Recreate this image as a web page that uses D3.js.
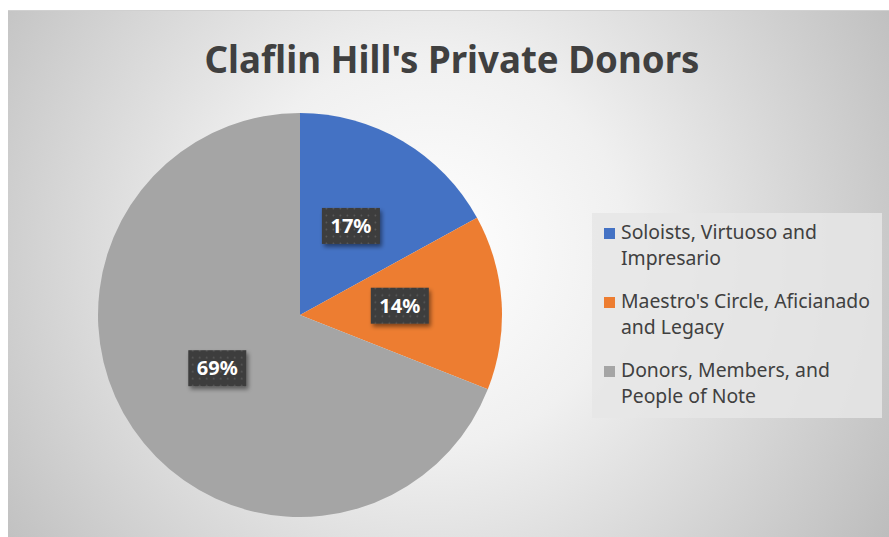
<!DOCTYPE html>
<html>
<head>
<meta charset="utf-8">
<script src="https://cdn.jsdelivr.net/npm/d3@7"></script>
<style>
  body { margin: 0; background: #fff; }
  svg { display: block; }
</style>
</head>
<body>
<svg width="889" height="537"></svg>
<script>
var title = "Claflin Hill's Private Donors";
var categories = ["Soloists, Virtuoso and Impresario", "Maestro's Circle, Aficianado and Legacy", "Donors, Members, and People of Note"];
var legendLines = [["Soloists, Virtuoso and", "Impresario"], ["Maestro's Circle, Aficianado", "and Legacy"], ["Donors, Members, and", "People of Note"]];
var values = [17, 14, 69];
var colors = ["#4472C4", "#ED7D31", "#A5A5A5"];

var svg = d3.select("svg"),
    W = +svg.attr("width"),
    H = +svg.attr("height"),
    cx = 300, cy = 315, radius = 202;

var font = "'Noto Sans', 'Open Sans', sans-serif";

var defs = svg.append("defs");

var grad = defs.append("radialGradient")
    .attr("id", "bg")
    .attr("gradientUnits", "userSpaceOnUse")
    .attr("cx", 430).attr("cy", 250).attr("r", 560);
grad.append("stop").attr("offset", "0%").attr("stop-color", "#ffffff");
grad.append("stop").attr("offset", "35%").attr("stop-color", "#f0f0f0");
grad.append("stop").attr("offset", "100%").attr("stop-color", "#bababa");

var pat = defs.append("pattern")
    .attr("id", "dots")
    .attr("patternUnits", "userSpaceOnUse")
    .attr("width", 7).attr("height", 7);
pat.append("rect").attr("width", 7).attr("height", 7).attr("fill", "#3c3c3c");
pat.append("circle").attr("cx", 3.5).attr("cy", 3.5).attr("r", 0.9).attr("fill", "#5c5c5c");

var shadow = defs.append("filter").attr("id", "shadow")
    .attr("x", "-30%").attr("y", "-30%").attr("width", "170%").attr("height", "170%");
shadow.append("feDropShadow")
    .attr("dx", 2).attr("dy", 3).attr("stdDeviation", 2)
    .attr("flood-color", "#000").attr("flood-opacity", 0.45);

// chart area
svg.append("rect")
    .attr("x", 8).attr("y", 10)
    .attr("width", W - 8).attr("height", H - 10)
    .attr("fill", "url(#bg)");
svg.append("line")
    .attr("x1", 8).attr("x2", W).attr("y1", 10.5).attr("y2", 10.5)
    .attr("stroke", "#d0d0d0");

// title, squeezed a little to look like the narrow original face
svg.append("text")
    .attr("x", 452).attr("y", 73)
    .attr("text-anchor", "middle")
    .attr("textLength", 495)
    .attr("lengthAdjust", "spacingAndGlyphs")
    .style("font-family", font)
    .style("font-weight", "bold")
    .style("font-size", "37px")
    .attr("fill", "#404040")
    .text(title);

// pie
var pie = d3.pie().sort(null).value(function(d) { return d; });
var arc = d3.arc().innerRadius(0).outerRadius(radius);
var labelArc = d3.arc().innerRadius(100).outerRadius(100);

var g = svg.append("g").attr("transform", "translate(" + cx + "," + cy + ")");
var arcs = pie(values);

g.selectAll(".slice")
    .data(arcs)
    .enter().append("path")
    .attr("class", "slice")
    .attr("d", arc)
    .attr("fill", function(d, i) { return colors[i]; });

var lab = g.selectAll(".lab")
    .data(arcs)
    .enter().append("g")
    .attr("class", "lab")
    .attr("transform", function(d) {
        var c = labelArc.centroid(d);
        return "translate(" + c[0] + "," + (c[1] - 3) + ")";
    });
lab.append("rect")
    .attr("x", -29).attr("y", -18)
    .attr("width", 58).attr("height", 36)
    .attr("fill", "url(#dots)")
    .attr("filter", "url(#shadow)");
lab.append("text")
    .attr("text-anchor", "middle")
    .attr("dy", "0.36em")
    .style("font-family", font)
    .style("font-weight", "bold")
    .style("font-size", "20px")
    .attr("fill", "#fff")
    .text(function(d) { return d.data + "%"; });

// legend
var legend = svg.append("g");
legend.append("rect")
    .attr("x", 592).attr("y", 213)
    .attr("width", 290).attr("height", 205)
    .attr("fill", "#e6e6e6")
    .attr("opacity", 0.85);

var items = legend.selectAll(".item")
    .data(categories)
    .enter().append("g")
    .attr("class", "item")
    .attr("transform", function(d, i) { return "translate(604," + (228 + i * 69) + ")"; });
items.append("rect")
    .attr("width", 11).attr("height", 11)
    .attr("fill", function(d, i) { return colors[i]; });
var lt = items.append("text")
    .attr("x", 17).attr("y", 11)
    .style("font-family", font)
    .style("font-size", "17px")
    .attr("fill", "#404040");
lt.selectAll("tspan")
    .data(function(d, i) { return legendLines[i]; })
    .enter().append("tspan")
    .attr("x", 17)
    .attr("dy", function(d, j) { return j === 0 ? 0 : 26; })
    .text(function(d) { return d; });

// fit longest legend line to ~249px
var longest = 0;
lt.selectAll("tspan").each(function() {
    longest = Math.max(longest, this.getComputedTextLength());
});
lt.style("font-size", (17 * 249 / longest) + "px");
</script>
</body>
</html>
